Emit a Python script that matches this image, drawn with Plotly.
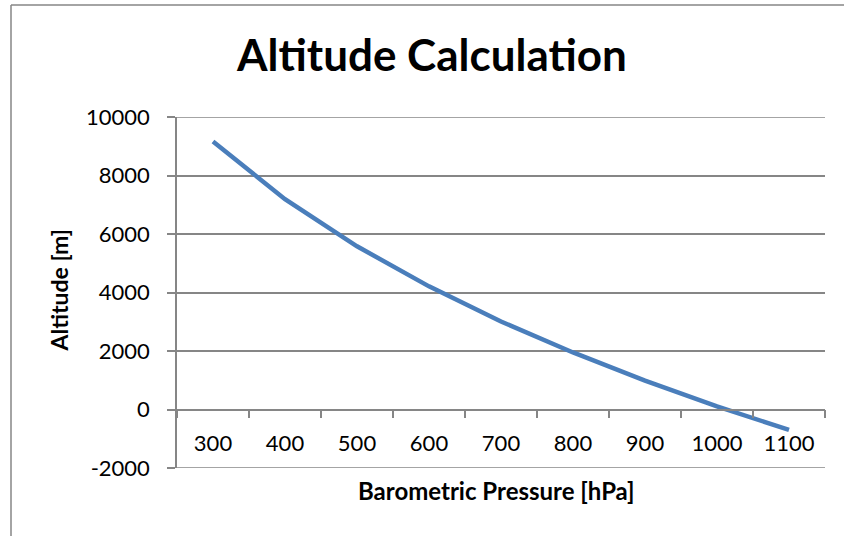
import plotly.graph_objects as go

pressure = ["300", "400", "500", "600", "700", "800", "900", "1000", "1100"]
altitude = [9160, 7190, 5580, 4210, 3010, 1950, 990, 110, -700]
y_ticks = [-2000, 0, 2000, 4000, 6000, 8000, 10000]
y_tick_text = ["-2000", "0", "2000", "4000", "6000", "8000", "10000"]

W, H = 844, 536
L, R, T, B = 177, 19, 117, 68
PW, PH = W - L - R, H - T - B

def px(x):
    return (x - L) / PW

def py(y):
    return (H - B - y) / PH

GRID = "#868686"
FONT = "Lato"

fig = go.Figure()
fig.add_trace(go.Scatter(
    x=pressure, y=altitude, mode="lines",
    line=dict(color="#4A7EBB", width=4.5),
    showlegend=False, hoverinfo="x+y",
))

fig.update_layout(
    width=W, height=H,
    margin=dict(l=L, r=R, t=T, b=B),
    paper_bgcolor="white", plot_bgcolor="white",
    font=dict(family=FONT, size=22, color="black"),
    xaxis=dict(
        type="category", categoryorder="array", categoryarray=pressure,
        range=[-0.5, 8.5], tickson="boundaries",
        ticks="outside", ticklen=8, tickcolor=GRID, tickwidth=1.5,
        showline=True, linecolor=GRID, linewidth=1.5,
        showgrid=False, zeroline=False,
        anchor="free", position=2000 / 12000,
        ticklabelstandoff=14,
        tickfont=dict(family=FONT, size=22, color="black"),
    ),
    yaxis=dict(
        range=[-2000, 10000], tickvals=y_ticks, ticktext=y_tick_text,
        ticks="outside", ticklen=8, tickcolor=GRID, tickwidth=1.5,
        showline=True, linecolor=GRID, linewidth=1.5,
        showgrid=True, gridcolor=GRID, gridwidth=1.5,
        zeroline=False,
        ticklabelstandoff=13,
        tickfont=dict(family=FONT, size=22, color="black"),
    ),
    annotations=[
        dict(text="<b>Altitude Calculation</b>", x=px(431), y=py(54),
             xref="paper", yref="paper", xanchor="center", yanchor="middle",
             showarrow=False, font=dict(family=FONT, size=44, color="black")),
        dict(text="<b>Barometric Pressure [hPa]</b>", x=px(496.5), y=py(491),
             xref="paper", yref="paper", xanchor="center", yanchor="middle",
             showarrow=False, font=dict(family=FONT, size=24, color="black")),
        dict(text="<b>Altitude [m]</b>", x=px(58), y=py(290.5), textangle=-90,
             xref="paper", yref="paper", xanchor="center", yanchor="middle",
             showarrow=False, font=dict(family=FONT, size=23, color="black")),
    ],
    shapes=[
        dict(type="line", xref="paper", yref="y",
             x0=0, x1=1, y0=y_ticks[-1], y1=y_ticks[-1],
             line=dict(color=GRID, width=1.5)),
        dict(type="line", xref="paper", yref="y",
             x0=0, x1=1, y0=y_ticks[0], y1=y_ticks[0],
             line=dict(color=GRID, width=1.5)),
        dict(type="line", xref="paper", yref="paper",
             x0=px(11), x1=px(11), y0=py(5), y1=py(H + 5),
             line=dict(color=GRID, width=1.5)),
        dict(type="line", xref="paper", yref="paper",
             x0=px(11), x1=px(W + 5), y0=py(5), y1=py(5),
             line=dict(color=GRID, width=1.5)),
    ],
)

fig.write_html("out.html", config={"displayModeBar": False},
               post_script="document.body.style.margin='0px';")
